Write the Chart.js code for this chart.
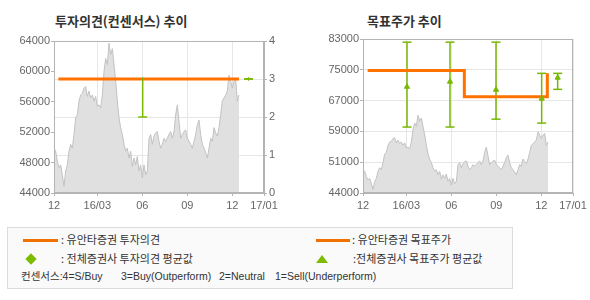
<!DOCTYPE html>
<html><head><meta charset="utf-8">
<script src="https://cdn.jsdelivr.net/npm/chart.js@4"></script>
<style>
body{margin:0;background:#fff;width:590px;height:300px;position:relative;overflow:hidden;font-family:"Noto Sans CJK KR",sans-serif;}
.title{position:absolute;top:13px;font-size:13px;font-weight:bold;color:#333;line-height:15px;white-space:nowrap;}
canvas{position:absolute;top:0;}
#legend{position:absolute;left:7px;top:227px;width:506px;height:62px;border:1px solid #dcdcdc;background:#fafafa;box-sizing:border-box;}
.lt{position:absolute;font-size:11px;color:#333;line-height:13px;white-space:pre;}
.lr{position:absolute;font-size:10.5px;color:#333;line-height:13px;white-space:pre;font-family:"Liberation Sans","Noto Sans CJK KR",sans-serif;}
.oline{position:absolute;height:3px;background:#f07000;}
.dia{position:absolute;width:8px;height:8px;background:#7dbb00;transform:rotate(45deg);}
.tri{position:absolute;width:0;height:0;border-left:6px solid transparent;border-right:6px solid transparent;border-bottom:8px solid #7dbb00;}
</style></head>
<body>
<div class="title" style="left:55px">투자의견(컨센서스) 추이</div>
<div class="title" style="left:367px">목표주가 추이</div>
<canvas id="c1" width="295" height="215" style="left:0"></canvas>
<canvas id="c2" width="295" height="215" style="left:295px"></canvas>
<div id="legend"></div>
<div class="oline" style="left:23px;top:239px;width:35px"></div>
<div class="lt" style="left:61px;top:233px">: 유안타증권 투자의견</div>
<div class="oline" style="left:316px;top:239px;width:34px"></div>
<div class="lt" style="left:352px;top:233px">: 유안타증권 목표주가</div>
<div class="dia" style="left:27px;top:255px"></div>
<div class="lt" style="left:61px;top:252px">: 전체증권사 투자의견 평균값</div>
<div class="tri" style="left:316px;top:255px"></div>
<div class="lt" style="left:353px;top:252px">:전체증권사 목표주가 평균값</div>
<div class="lr" style="left:21px;top:270px">컨센서스:4=S/Buy</div>
<div class="lr" style="left:121px;top:270px">3=Buy(Outperform)</div>
<div class="lr" style="left:219px;top:270px">2=Neutral</div>
<div class="lr" style="left:275px;top:270px">1=Sell(Underperform)</div>
<script>
// ---- data ----
const xTickPos = [0, 26, 53, 80, 107, 126];
const xTickLabels = ['12', '16/03', '06', '09', '12', '17/01'];
const leftPriceTicks = ['44000','48000','52000','56000','60000','64000'];
const consTicks = ['0','1','2','3','4'];
const rightPriceTicks = ['44000','51000','59000','67000','75000','83000'];

const price = [
 49900,49500,48200,47300,47700,46400,44900,46900,47700,49500,
 50400,49900,51700,53900,54300,56100,56900,57100,57800,58000,
 56700,57400,56500,56900,56100,56700,55400,55600,55200,56900,
 60000,61700,60900,63700,62200,63000,60900,58700,56100,53900,
 52600,51700,50400,49500,49900,48600,49500,47500,48600,47700,
 48800,46900,47700,46000,47700,46400,
 46900,51200,51700,50400,51500,51900,52100,50800,49900,50400,
 51200,50800,51200,51700,52100,51200,52100,54300,55600,53400,
 51200,51700,52100,52300,51200,50800,50400,49900,50800,51700,
 53000,53600,51700,50400,49900,49300,48600,49900,51200,50800,
 52600,51900,51500,52600,54300,56100,56500,56900,57400,59500,
 58700,57800,58700,59100,56100,56900
];

// Yuanta consensus opinion (right axis 0-4)
const consX = [2.6, 111];
const consY = [3, 3];
// all brokers consensus average
const consAvgX = [53.2, 116.7];
const consAvgLow = [2, 3];
const consAvgHigh = [3, 3];
const consAvgMean = [3, 3];

// Yuanta target price (stepped)
const targetX = [2.8, 60.8, 110.6];
const targetY = [75000, 68400, 74300];
// all brokers target price
const tpAvgX = [26.4, 52.2, 79.8, 107.2, 116.8];
const tpAvgLow = [60700, 60700, 62700, 61700, 70250];
const tpAvgHigh = [82200, 82200, 82200, 74300, 74300];
const tpAvgMean = [70900, 72200, 70150, 67900, 73200];

// ---- helpers ----
const ORANGE = '#ff7200', GREEN = '#78b800', FRAME = '#b4b4b4', GRID = '#e6e6e6';
const tickFont = {family: 'Liberation Sans', size: 11};
const pricePts = price.map((v, i) => ({x: i, y: v}));
const pts = (xs, ys) => xs.map((x, i) => ({x, y: ys[i]}));
function segs(xs, lo, hi) {
  const out = [];
  xs.forEach((x, i) => { out.push({x, y: lo[i]}, {x, y: hi[i]}, {x, y: null}); });
  return out;
}
const framePlugin = {
  id: 'frame',
  afterDatasetsDraw(chart) {
    const a = chart.chartArea, ctx = chart.ctx;
    ctx.save();
    ctx.strokeStyle = FRAME; ctx.lineWidth = 1;
    ctx.strokeRect(Math.round(a.left) + 0.5, Math.round(a.top) + 0.5,
      Math.round(a.right - a.left) - 1, Math.round(a.bottom - a.top) - 1);
    ctx.restore();
  }
};
const xScale = () => ({
  type: 'linear', min: 0, max: 126,
  afterBuildTicks: s => { s.ticks = xTickPos.map(v => ({value: v})); },
  afterFit: s => { s.height = 22; },
  ticks: {callback: (v, i) => xTickLabels[i], color: '#666', font: tickFont, padding: 3, maxRotation: 0, autoSkip: false},
  grid: {color: GRID, tickColor: FRAME, tickLength: 3},
  border: {color: FRAME}
});
const area = (axis) => ({
  data: pricePts, yAxisID: axis, order: 10,
  fill: 'start', backgroundColor: '#e0e0e0', borderColor: '#c2c2c2', borderWidth: 1,
  pointRadius: 0, tension: 0
});

new Chart(document.getElementById('c1'), {
  type: 'line',
  data: {datasets: [
    {data: pts(consX, consY), yAxisID: 'yC', borderColor: ORANGE, borderWidth: 3, pointRadius: 0, order: 1},
    {data: segs(consAvgX, consAvgLow, consAvgHigh), yAxisID: 'yC', borderColor: GREEN, borderWidth: 1.5, pointRadius: 0, spanGaps: false, order: 2},
    {data: pts(consAvgX, consAvgLow).concat(pts(consAvgX, consAvgHigh)), yAxisID: 'yC', showLine: false, pointStyle: 'line', pointRadius: 4.5, pointBorderWidth: 1.5, pointBorderColor: GREEN, order: 2},
    {data: pts(consAvgX, consAvgMean), yAxisID: 'yC', showLine: false, pointStyle: 'rectRot', pointRadius: 1.5, pointBackgroundColor: GREEN, pointBorderColor: GREEN, pointBorderWidth: 1, order: 0},
    area('yP')
  ]},
  options: {
    responsive: false, animation: false, events: [],
    layout: {padding: {top: 41, left: 0, right: 0, bottom: 0}},
    plugins: {legend: {display: false}, tooltip: {enabled: false}},
    scales: {
      x: xScale(),
      yP: {type: 'linear', position: 'left', min: 44000, max: 64000,
        afterBuildTicks: s => { s.ticks = leftPriceTicks.map(t => ({value: +t})); },
        afterFit: s => { s.width = 54; },
        ticks: {callback: (v, i) => leftPriceTicks[i], color: '#666', font: tickFont, padding: 1},
        grid: {drawOnChartArea: false, tickColor: FRAME, tickLength: 3}, border: {color: FRAME}},
      yC: {type: 'linear', position: 'right', min: 0, max: 4,
        afterBuildTicks: s => { s.ticks = consTicks.map(t => ({value: +t})); },
        afterFit: s => { s.width = 31; },
        ticks: {callback: (v, i) => consTicks[i], color: '#666', font: tickFont, padding: 2},
        grid: {color: GRID, tickColor: FRAME, tickLength: 3}, border: {color: FRAME}}
    }
  },
  plugins: [framePlugin]
});

const rMin = 44000, rMax = 83000;
new Chart(document.getElementById('c2'), {
  type: 'line',
  data: {datasets: [
    {data: pts(targetX, targetY), yAxisID: 'y', borderColor: ORANGE, borderWidth: 3, pointRadius: 0, stepped: 'before', order: 1, borderCapStyle: 'butt'},
    {data: segs(tpAvgX, tpAvgLow, tpAvgHigh), yAxisID: 'y', borderColor: GREEN, borderWidth: 1.5, pointRadius: 0, spanGaps: false, order: 2},
    {data: pts(tpAvgX, tpAvgLow).concat(pts(tpAvgX, tpAvgHigh)), yAxisID: 'y', showLine: false, pointStyle: 'line', pointRadius: 4.5, pointBorderWidth: 1.5, pointBorderColor: GREEN, order: 2},
    {data: pts(tpAvgX, tpAvgMean), yAxisID: 'y', showLine: false, pointStyle: 'triangle', pointRadius: 3, pointBackgroundColor: GREEN, pointBorderColor: GREEN, order: 0},
    area('y')
  ]},
  options: {
    responsive: false, animation: false, events: [],
    layout: {padding: {top: 39, left: 0, right: 17, bottom: 0}},
    plugins: {legend: {display: false}, tooltip: {enabled: false}},
    scales: {
      x: xScale(),
      y: {type: 'linear', position: 'left', min: rMin, max: rMax,
        afterBuildTicks: s => { s.ticks = rightPriceTicks.map((t, i) => ({value: rMin + i * (rMax - rMin) / (rightPriceTicks.length - 1)})); },
        afterFit: s => { s.width = 68; },
        ticks: {callback: (v, i) => rightPriceTicks[i], color: '#666', font: tickFont, padding: 1},
        grid: {color: GRID, tickColor: FRAME, tickLength: 3}, border: {color: FRAME}}
    }
  },
  plugins: [framePlugin]
});
</script>
</body></html>
